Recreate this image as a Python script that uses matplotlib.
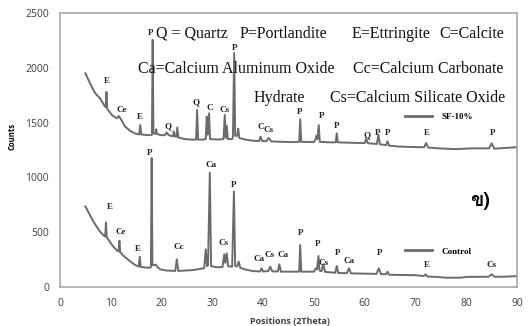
import matplotlib.pyplot as plt
from matplotlib import font_manager
from matplotlib.ft2font import FT2Font

# XRD pattern, SF-10% sample (2theta, counts)
sf_theta = [5.0, 5.9, 6.9, 7.9, 8.8, 9.0, 9.15, 9.3, 10.3, 11.2, 11.6, 12.0, 12.8, 13.8, 14.8,
            15.6, 15.8, 16.0, 16.8, 17.8, 18.1, 18.25, 18.4, 18.8, 18.95, 19.1, 20.0, 20.6, 21.0,
            21.4, 22.2, 22.4, 22.6, 22.9, 23.1, 23.3, 24.5, 26.0, 26.8, 27.0, 27.2, 28.2, 28.7,
            28.9, 29.1, 29.35, 29.55, 31.0, 32.2, 32.45, 32.65, 32.85, 33.05, 33.9, 34.05, 34.3,
            34.5, 34.9, 35.1, 35.3, 36.5, 38.0, 39.2, 39.5, 39.8, 40.6, 41.1, 41.6, 43.5, 46.0,
            47.1, 47.3, 47.5, 50.0, 50.3, 50.5, 50.7, 50.95, 51.15, 53.0, 54.3, 54.5, 54.7, 56.0,
            58.0, 60.0, 60.3, 60.6, 62.4, 62.7, 63.0, 64.2, 64.5, 64.8, 66.5, 69.0, 71.7, 72.1,
            72.5, 75.0, 78.0, 81.0, 84.5, 85.0, 85.5, 88.0, 90.0]
sf_counts = [1950, 1860, 1770, 1720, 1650, 1640, 1780, 1625, 1565, 1540, 1560, 1530, 1465, 1425, 1400,
             1392, 1478, 1392, 1388, 1385, 1390, 2255, 1400, 1400, 1440, 1395, 1385, 1385, 1410,
             1385, 1375, 1420, 1375, 1370, 1455, 1365, 1350, 1345, 1345, 1615, 1345, 1345, 1350,
             1555, 1390, 1585, 1350, 1345, 1350, 1570, 1360, 1470, 1350, 1350, 1370, 2135,
             1380, 1380, 1445, 1360, 1345, 1335, 1332, 1372, 1332, 1330, 1360, 1328, 1325, 1322,
             1325, 1530, 1325, 1322, 1345, 1380, 1350, 1478, 1325, 1320, 1320, 1402, 1320, 1318,
             1315, 1314, 1355, 1312, 1305, 1390, 1302, 1295, 1330, 1290, 1282, 1278, 1275, 1314,
             1272, 1264, 1258, 1265, 1265, 1311, 1262, 1270, 1276]

# XRD pattern, control sample
ctrl_theta = [5.0, 5.8, 6.6, 7.3, 7.9, 8.6, 8.9, 9.05, 9.2, 10.0, 10.5, 11.2, 11.55, 11.7, 11.85,
              12.5, 13.1, 14.0, 14.8, 15.5, 15.7, 15.9, 16.8, 17.6, 17.9, 18.05, 18.2, 18.6, 18.9,
              19.1, 19.7, 21.0, 22.7, 23.0, 23.3, 24.5, 26.3, 27.5, 28.4, 28.7, 28.95, 29.15, 29.5,
              29.75, 31.0, 32.0, 32.35, 32.55, 32.85, 33.1, 33.9, 34.25, 34.5, 34.9, 35.2, 35.5,
              36.5, 38.0, 39.4, 39.7, 40.0, 41.0, 41.4, 41.8, 42.9, 43.2, 43.5, 45.0, 47.1, 47.3,
              47.5, 50.0, 50.35, 50.6, 50.9, 51.1, 51.5, 51.85, 52.2, 54.2, 54.5, 54.8, 56.5, 56.9,
              57.3, 60.0, 62.3, 62.8, 63.2, 64.2, 64.5, 64.8, 67.0, 70.0, 71.6, 72.0, 72.4, 74.0,
              76.0, 79.0, 80.0, 84.4, 85.0, 85.6, 88.0, 90.0]
ctrl_counts = [735, 665, 596, 545, 505, 470, 460, 590, 455, 400, 368, 335, 325, 422, 318,
               285, 262, 228, 201, 186, 276, 183, 178, 175, 180, 1177, 200, 200, 205,
               185, 162, 150, 147, 253, 146, 150, 155, 165, 172, 344, 190, 200, 1043,
               190, 180, 182, 300, 220, 307, 190, 185, 870, 190, 190, 231, 175,
               160, 145, 142, 171, 142, 145, 185, 143, 142, 207, 140, 140, 140, 383,
               140, 140, 170, 160, 283, 150, 145, 207, 138, 130, 192, 128, 126, 171,
               125, 122, 120, 171, 118, 116, 140, 112, 110, 108, 100, 116, 95, 93,
               85, 85, 92, 94, 116, 93, 95, 100]

# phase labels above the peaks: (text, 2theta, counts)
sf_labels = [("E", 9.26, 1880), ("Ce", 12.2, 1615), ("E", 15.75, 1551), ("P", 17.8, 2317),
             ("Q", 21.27, 1469), ("Q", 26.78, 1688), ("C", 29.44, 1633), ("Cs", 32.49, 1615),
             ("P", 34.46, 2181), ("C", 39.58, 1460), ("Cs", 41.06, 1437), ("P", 47.26, 1595),
             ("P", 51.5, 1560), ("P", 54.55, 1469), ("Q", 60.4, 1387), ("P", 62.6, 1405),
             ("P", 64.6, 1405), ("E", 72.3, 1405), ("P", 85.1, 1405)]
ctrl_labels = [("E", 9.85, 730), ("Ce", 11.95, 505), ("E", 15.42, 344), ("P", 17.72, 1223),
               ("Cc", 23.43, 362), ("Ca", 29.68, 1113), ("Cs", 32.3, 399), ("P", 34.27, 931),
               ("Ca", 39.19, 255), ("Cs", 41.35, 292), ("Ca", 43.86, 292), ("P", 47.46, 490),
               ("P", 50.75, 392), ("Cs", 51.85, 222), ("P", 54.65, 310), ("Ca", 56.91, 240),
               ("P", 63.02, 307), ("E", 72.2, 201), ("Cs", 85.01, 201)]

# key of phase abbreviations: (text, 2theta, counts, alignment)
key_text = [("Q = Quartz", 18.9, 2310, 'left'), ("P=Portlandite", 35.4, 2310, 'left'),
            ("E=Ettringite", 57.5, 2310, 'left'), ("C=Calcite", 87.4, 2310, 'right'),
            ("Ca=Calcium Aluminum Oxide", 15.4, 1990, 'left'),
            ("Cc=Calcium Carbonate", 87.4, 1990, 'right'),
            ("Hydrate", 38.2, 1720, 'left'), ("Cs=Calcium Silicate Oxide", 87.6, 1720, 'right')]

x_ticks = [0, 10, 20, 30, 40, 50, 60, 70, 80, 90]
y_ticks = [0, 500, 1000, 1500, 2000, 2500]

line_col = '#6b6b6b'
serif = 'Liberation Serif'


def family_with(ch):
    # first installed font that actually has a glyph for ch
    for f in font_manager.fontManager.ttflist:
        try:
            if FT2Font(f.fname).get_char_index(ord(ch)):
                return f.name
        except Exception:
            pass
    return None


thai_family = family_with('ข')
panel_fonts = ([thai_family] if thai_family else []) + ['DejaVu Sans']

fig = plt.figure(figsize=(5.31, 3.26), dpi=100)
ax = fig.add_axes([0.113, 0.1196, 0.8607, 0.8405])

l_sf, = ax.plot(sf_theta, sf_counts, color=line_col, lw=1.4)
l_ctrl, = ax.plot(ctrl_theta, ctrl_counts, color=line_col, lw=1.4)

ax.set_xlim(0, 90)
ax.set_ylim(0, 2500)
ax.set_xticks(x_ticks)
ax.set_yticks(y_ticks)
ax.tick_params(length=0, labelsize=7.5, labelcolor='#404040', pad=8)
for lab in ax.get_xticklabels() + ax.get_yticklabels():
    lab.set_fontfamily('Open Sans')
for sp in ax.spines.values():
    sp.set_color('#a0a0a0')
    sp.set_linewidth(1.1)

ax.set_xlabel('Positions (2Theta)', fontsize=6.5, fontweight='bold', family='Open Sans',
              color='#404040')
ax.xaxis.set_label_coords(0.503, -0.11)
ax.set_ylabel('Counts', fontsize=5.5, fontweight='bold', family='Open Sans')
ax.yaxis.set_label_coords(-0.095, 0.55)

for txt, x, y in sf_labels + ctrl_labels:
    ax.text(x, y, txt, fontsize=6.5, fontweight='bold', family=serif,
            ha='center', va='center', color='#222222')

for txt, x, y, ha in key_text:
    ax.text(x, y, txt, fontsize=11.5, family=serif, ha=ha, va='center', color='#111111')

# one legend entry per trace, placed next to each curve
leg_font = {'family': serif, 'weight': 'bold', 'size': 6.5}
leg1 = ax.legend([l_sf], ['SF-10%'], loc='center left', bbox_to_anchor=(0.755, 0.62),
                 frameon=False, prop=leg_font, handlelength=3.0, handletextpad=1.0,
                 borderpad=0, borderaxespad=0)
for h in leg1.get_lines():
    h.set_linewidth(2.0)
ax.add_artist(leg1)
leg2 = ax.legend([l_ctrl], ['Control'], loc='center left', bbox_to_anchor=(0.755, 0.13),
                 frameon=False, prop=leg_font, handlelength=3.0, handletextpad=1.0,
                 borderpad=0, borderaxespad=0)
for h in leg2.get_lines():
    h.set_linewidth(2.0)

ax.text(0.919, 0.314, 'ข)', transform=ax.transAxes, fontsize=14, fontweight='bold',
        family=panel_fonts, ha='center', va='center')

fig.savefig('out.png', dpi=100)
